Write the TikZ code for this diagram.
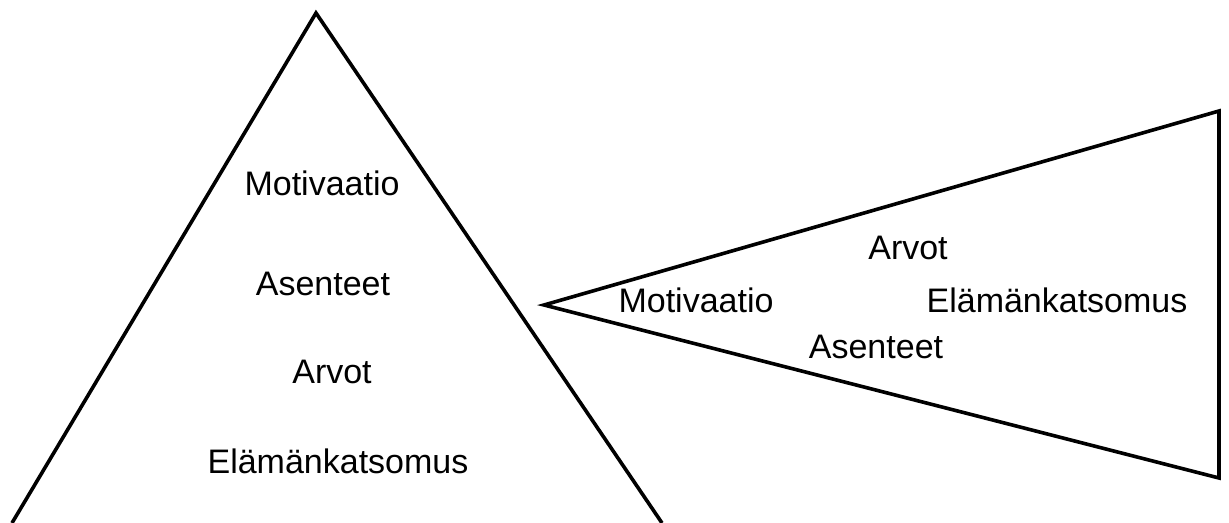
\documentclass[tikz,border=0pt]{standalone}
\usepackage{fontspec}
\setmainfont{Liberation Sans}
\usepackage{tikz}

\begin{document}
\begin{tikzpicture}[x = 0.5pt, y = -0.5pt, line width = 1.8pt, line join = miter,
    lbl/.style = {anchor = base, inner sep = 0pt, font = \fontsize{17}{20}\selectfont}]
\useasboundingbox (0,0) rectangle (1229,523);
\coordinate (p1) at (316,13);
\coordinate (p2) at (12,523);
\coordinate (p3) at (662,523);
\coordinate (q1) at (544,305);
\coordinate (q2) at (1219,111);
\coordinate (q3) at (1219,478);
    \draw [-] (p2) -- (p1) -- (p3);
    \draw [-] (q1) -- (q2) -- (q3) -- cycle;
\draw (322,196) node[lbl](m1){Motivaatio}
    (323,295) node[lbl](a1){Asenteet}
    (332,383) node[lbl](v1){Arvot}
    (338,473) node[lbl](e1){Elämänkatsomus};
\draw (908,260) node[lbl](v2){Arvot}
    (696,313) node[lbl](m2){Motivaatio}
    (1057,313) node[lbl](e2){Elämänkatsomus}
    (876,358) node[lbl](a2){Asenteet};
\end{tikzpicture}
\end{document}
